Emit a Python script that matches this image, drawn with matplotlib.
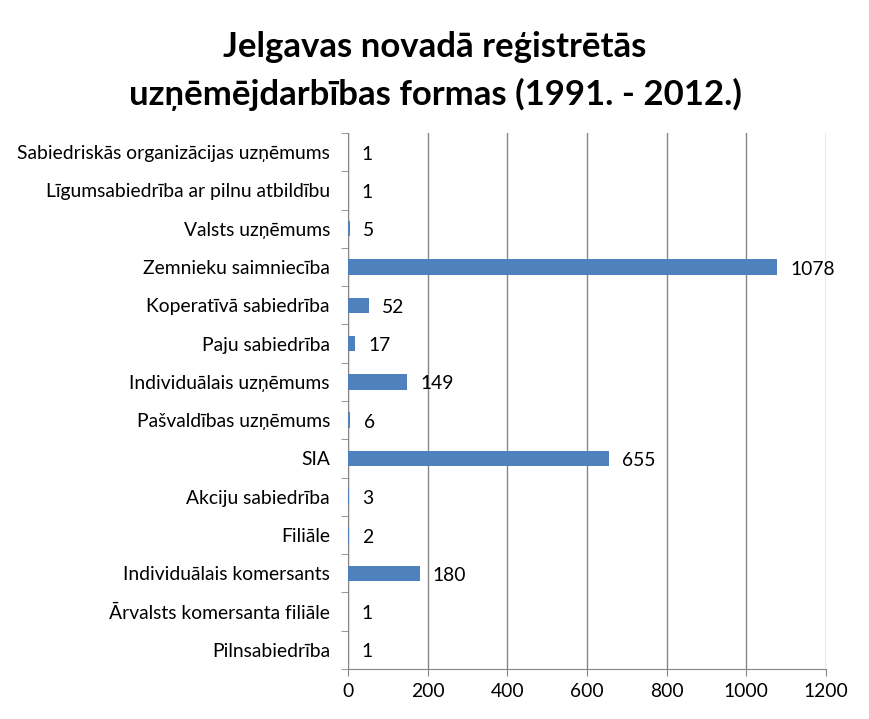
import matplotlib
matplotlib.use("Agg")
import matplotlib.pyplot as plt

categories = [
    "Sabiedriskās organizācijas uzņēmums",
    "Līgumsabiedrība ar pilnu atbildību",
    "Valsts uzņēmums",
    "Zemnieku saimniecība",
    "Koperatīvā sabiedrība",
    "Paju sabiedrība",
    "Individuālais uzņēmums",
    "Pašvaldības uzņēmums",
    "SIA",
    "Akciju sabiedrība",
    "Filiāle",
    "Individuālais komersants",
    "Ārvalsts komersanta filiāle",
    "Pilnsabiedrība",
]
values = [1, 1, 5, 1078, 52, 17, 149, 6, 655, 3, 2, 180, 1, 1]
xticks = [0, 200, 400, 600, 800, 1000, 1200]
title = "Jelgavas novadā reģistrētās\nuzņēmējdarbības formas (1991. - 2012.)"

plt.rcParams['font.family'] = ['Lato', 'DejaVu Sans']
fs = 13.9

fig = plt.figure(figsize=(8.70, 7.19), dpi=100)
ax = fig.add_axes([348/870, 1 - 669/719, (826-348)/870, (669-133)/719])

n = len(categories)
ypos = [n - 1 - i for i in range(n)]
ax.barh(ypos, values, height=0.4, color="#4F81BD", zorder=3)
for y, v in zip(ypos, values):
    ax.annotate(str(v), (v, y), xytext=(9.5, -1.5), textcoords="offset points",
                va="center", ha="left", fontsize=fs, color="black")

ax.set_xlim(0, 1200)
ax.set_ylim(-0.5, n - 0.5)
ax.set_xticks(xticks)
ax.set_xticklabels([str(t) for t in xticks], fontsize=fs)
ax.set_yticks(ypos)
ax.set_yticklabels(categories, fontsize=fs)
ax.set_yticks([k + 0.5 for k in range(-1, n)], minor=True)
ax.tick_params(axis="y", which="major", length=0, pad=13)
ax.tick_params(axis="y", which="minor", length=5, color="#868686", direction="out")
ax.tick_params(axis="x", which="major", length=5, color="#868686", direction="out", pad=5)
ax.xaxis.grid(True, color="#868686", linewidth=1, zorder=0)
for s in ["top", "right"]:
    ax.spines[s].set_visible(False)
for s in ["left", "bottom"]:
    ax.spines[s].set_color("#868686")

fig.text(0.5, 1 - 71/719, title, ha="center", va="center", fontsize=25,
         fontweight="bold", linespacing=1.55)

fig.savefig("out.png", dpi=100)
